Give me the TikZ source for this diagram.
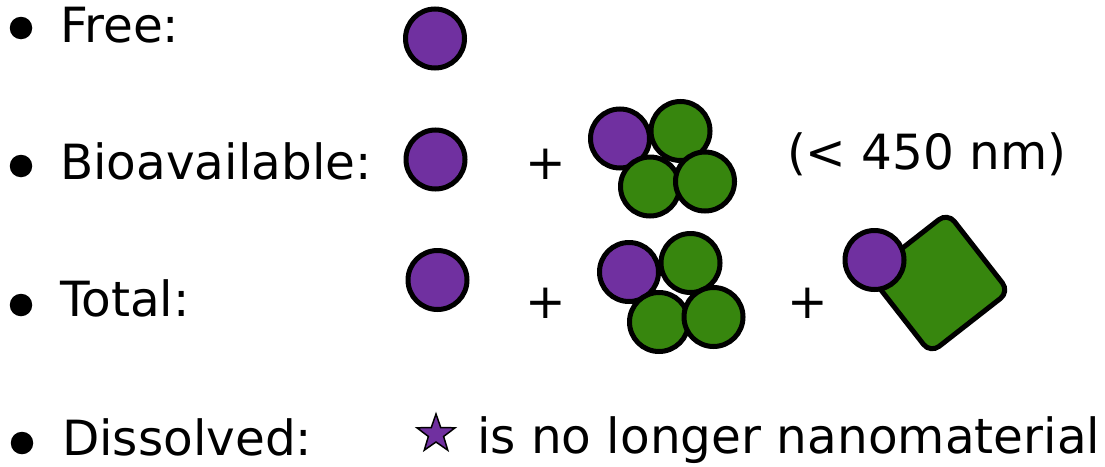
\documentclass[tikz,border=0pt]{standalone}
\usepackage{fontspec}
\setmainfont{DejaVu Sans}
\usetikzlibrary{shapes.geometric}
\definecolor{npurple}{RGB}{112,48,160}
\definecolor{ngreen}{RGB}{55,134,14}
\tikzset{
  txt/.style={anchor=base west, inner sep=0pt, outer sep=0pt, font=\fontsize{48.5}{58}\selectfont},
  bul/.style={circle, fill=black, inner sep=0pt, minimum size=22.5pt},
  pball/.style={circle, draw=black, line width=5pt, fill=npurple, inner sep=0pt, minimum size=59pt},
  gball/.style={circle, draw=black, line width=5pt, fill=ngreen, inner sep=0pt, minimum size=59pt},
  plate/.style={rectangle, draw=black, line width=5pt, fill=ngreen, rounded corners=11pt, inner sep=0pt, minimum size=100pt, rotate=38},
  pstar/.style={star, star points=5, star point ratio=2.5, draw=black, line width=1.5pt, fill=npurple, inner sep=0pt, minimum size=40pt}
}
\begin{document}
\begin{tikzpicture}[x=1pt,y=-1pt]
\useasboundingbox (0,0) rectangle (1105,466);
% bullets
\node[bul] (b1) at (21,28) {};
\node[bul] (b2) at (21,166) {};
\node[bul] (b3) at (21,305) {};
\node[bul] (b4) at (22,443) {};
% labels
\node[txt] (l1) at (60,42) {Free:};
\node[txt] (l2) at (60,179) {Bioavailable:};
\node[txt] (l3) at (60,316) {Total:};
\node[txt] (l4) at (62,455) {Dissolved:};
% row 1
\node[pball] (f1) at (435,38.5) {};
% row 2
\node[pball] (a1) at (435.5,159.5) {};
\node[txt] (p21) at (525,179) {+};
\node[pball] (a2) at (620,138.5) {};
\node[gball] (a3) at (680.5,131) {};
\node[gball] (a4) at (650,186.5) {};
\node[gball] (a5) at (705,181.5) {};
\node[txt] (sz) at (787,169) {(< 450 nm)};
% row 3
\node[pball] (t1) at (437.5,280) {};
\node[txt] (p31) at (525,318) {+};
\node[pball] (t2) at (629,272) {};
\node[gball] (t3) at (690.5,263) {};
\node[gball] (t4) at (659,322) {};
\node[gball] (t5) at (713.5,317) {};
\node[txt] (p32) at (787,318) {+};
\node[plate] (sq) at (939,283) {};
\node[pball] (t6) at (874.5,260) {};
% row 4
\node[pstar] (st) at (436,434) {};
\node[txt] (nm) at (477,453) {is no longer nanomaterial};
\end{tikzpicture}
\end{document}
